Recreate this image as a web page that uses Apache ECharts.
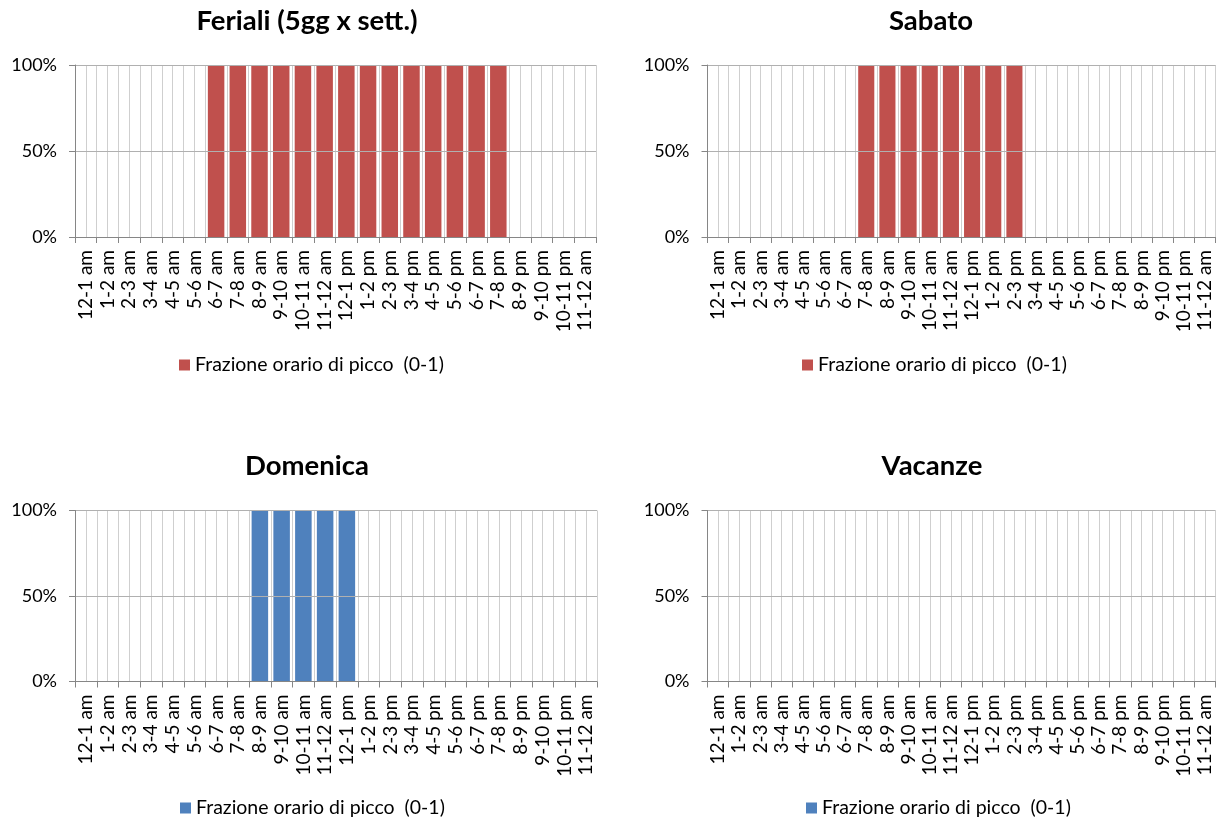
<!DOCTYPE html>
<html>
<head>
<meta charset="utf-8">
<script src="https://cdn.jsdelivr.net/npm/echarts@6/dist/echarts.min.js"></script>
<style>
html,body{margin:0;padding:0;background:#fff;}
#c{width:1219px;height:823px;}
</style>
</head>
<body>
<div id="c"></div>
<script>
const categories = ['12-1 am','1-2 am','2-3 am','3-4 am','4-5 am','5-6 am','6-7 am','7-8 am','8-9 am','9-10 am','10-11 am','11-12 am','12-1 pm','1-2 pm','2-3 pm','3-4 pm','4-5 pm','5-6 pm','6-7 pm','7-8 pm','8-9 pm','9-10 pm','10-11 pm','11-12 am'];
const feriali  = [0,0,0,0,0,0,1,1,1,1,1,1,1,1,1,1,1,1,1,1,0,0,0,0];
const sabato   = [0,0,0,0,0,0,0,1,1,1,1,1,1,1,1,0,0,0,0,0,0,0,0,0];
const domenica = [0,0,0,0,0,0,0,0,1,1,1,1,1,0,0,0,0,0,0,0,0,0,0,0];
const vacanze  = [0,0,0,0,0,0,0,0,0,0,0,0,0,0,0,0,0,0,0,0,0,0,0,0];
const titles = ['Feriali (5gg x sett.)','Sabato','Domenica','Vacanze'];
const seriesName = 'Frazione orario di picco  (0-1)';
const yTicks = [0, 0.5, 1];

const RED = '#C0504D', BLUE = '#4F81BD';
const FONT = 'Lato';
const panels = [
  {data: feriali,  color: RED,  grid:{left:75,  top:65,    width:521, height:172}, titleX:307, titleY:7,   legendX:179, legendY:355},
  {data: sabato,   color: RED,  grid:{left:707.5,top:65,   width:508, height:172}, titleX:931, titleY:7,   legendX:802, legendY:355},
  {data: domenica, color: BLUE, grid:{left:75,  top:510.5, width:522, height:171}, titleX:307, titleY:452, legendX:180, legendY:798},
  {data: vacanze,  color: BLUE, grid:{left:707.5,top:510.5,width:508, height:171}, titleX:932, titleY:452, legendX:806, legendY:798}
];

const option = {
  animation:false,
  backgroundColor:'#fff',
  textStyle:{fontFamily:FONT},
  title:[], grid:[], xAxis:[], yAxis:[], series:[], legend:[]
};

panels.forEach((p,i)=>{
  option.title.push({text:titles[i], left:p.titleX, top:p.titleY, textAlign:'center', padding:0,
    textStyle:{fontFamily:FONT, fontWeight:'bold', fontSize:27.5, color:'#000'}});
  option.grid.push(Object.assign({containLabel:false}, p.grid));
  option.xAxis.push({
    type:'category', gridIndex:i, data:categories, boundaryGap:true,
    axisLine:{show:true, lineStyle:{color:'#868686', width:1}},
    axisTick:{show:true, interval:0, length:6, lineStyle:{color:'#868686'}},
    axisLabel:{interval:0, rotate:90, fontSize:19, color:'#000', margin:13, fontFamily:FONT},
    splitLine:{show:false}, z:5
  });
  option.xAxis.push({
    type:'value', gridIndex:i, position:'top', min:0, max:48, interval:1,
    axisLine:{show:false}, axisTick:{show:false}, axisLabel:{show:false},
    splitLine:{show:true, lineStyle:{color:'#cfcfcf', width:1}}
  });
  option.yAxis.push({
    type:'value', gridIndex:i, min:yTicks[0], max:yTicks[yTicks.length-1], interval:yTicks[1]-yTicks[0],
    axisLine:{show:true, lineStyle:{color:'#868686', width:1}},
    axisTick:{show:true, length:6, lineStyle:{color:'#868686'}},
    axisLabel:{fontSize:18, color:'#000', margin:18, fontFamily:FONT, formatter:v=>Math.round(v*100)+'%'},
    splitLine:{show:true, lineStyle:{color:'#b0b0b0', width:1}}, z:5
  });
  option.series.push({
    type:'bar', name:seriesName, xAxisIndex:2*i, yAxisIndex:i, data:p.data,
    barCategoryGap:'24%', itemStyle:{color:p.color}, z:3
  });
  option.legend.push({
    left:p.legendX, top:p.legendY, padding:0, itemWidth:11, itemHeight:11, icon:'rect',
    selectedMode:false,
    textStyle:{fontFamily:FONT, fontSize:19.5, color:'#000'},
    data:[{name:seriesName, itemStyle:{color:p.color}}]
  });
});

const chart = echarts.init(document.getElementById('c'), null, {renderer:'canvas'});
chart.setOption(option);
</script>
</body>
</html>
